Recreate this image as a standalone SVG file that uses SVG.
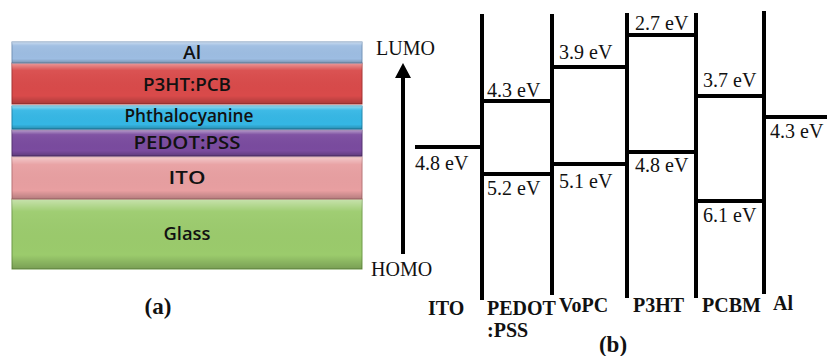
<svg xmlns="http://www.w3.org/2000/svg" width="827" height="356" viewBox="0 0 827 356">
<defs>
<linearGradient id="bevel" x1="0" y1="0" x2="0" y2="1">
<stop offset="0" stop-color="#fff" stop-opacity="0.45"/>
<stop offset="0.18" stop-color="#fff" stop-opacity="0.05"/>
<stop offset="0.8" stop-color="#000" stop-opacity="0"/>
<stop offset="1" stop-color="#000" stop-opacity="0.22"/>
</linearGradient>
<style>
.band{stroke-width:1}
.bl{font-family:"Open Sans","DejaVu Sans",sans-serif;font-weight:600;font-size:18px;fill:#111;text-anchor:middle}
.lv{stroke:#000;stroke-width:4;fill:none}
.ev{font-family:"Liberation Serif","Times New Roman",serif;font-size:20px;fill:#111}
.nm{font-family:"Liberation Serif","Times New Roman",serif;font-size:20px;font-weight:bold;fill:#111}
.cap{font-family:"Liberation Serif","Times New Roman",serif;font-size:23px;font-weight:bold;fill:#111;text-anchor:middle}
</style>
</defs>
<rect width="827" height="356" fill="#fff"/>
<g id="panel-a">
<g id="glass"><rect x="12" y="199" width="350" height="70" fill="#9bcb6c" stroke="#6f9a48" class="band"/><rect x="12" y="199" width="350" height="70" fill="url(#bevel)"/><text x="187" y="240" class="bl" textLength="47" lengthAdjust="spacingAndGlyphs">Glass</text></g>
<g id="ito"><rect x="12" y="157" width="350" height="42" fill="#e89fa1" stroke="#b77577" class="band"/><rect x="12" y="157" width="350" height="42" fill="url(#bevel)"/><text x="187" y="184" class="bl" textLength="37" lengthAdjust="spacingAndGlyphs">ITO</text></g>
<g id="pedot"><rect x="12" y="130" width="350" height="26" fill="#7a4b9f" stroke="#553271" class="band"/><rect x="12" y="130" width="350" height="26" fill="url(#bevel)"/><text x="187" y="149" class="bl" textLength="107" lengthAdjust="spacingAndGlyphs">PEDOT:PSS</text></g>
<g id="phthalocyanine"><rect x="12" y="106" width="350" height="23" fill="#35b7e5" stroke="#1f86ad" class="band"/><rect x="12" y="106" width="350" height="23" fill="url(#bevel)"/><text x="189" y="122" class="bl" textLength="129" lengthAdjust="spacingAndGlyphs">Phthalocyanine</text></g>
<g id="p3ht-pcb"><rect x="12" y="63" width="350" height="41" fill="#d94a4a" stroke="#a53232" class="band"/><rect x="12" y="63" width="350" height="41" fill="url(#bevel)"/><text x="187" y="91" class="bl" textLength="88" lengthAdjust="spacingAndGlyphs">P3HT:PCB</text></g>
<g id="al"><rect x="12" y="42" width="350" height="21" fill="#9dbde2" stroke="#7494b8" class="band"/><rect x="12" y="42" width="350" height="21" fill="url(#bevel)"/><text x="192" y="59" class="bl" textLength="18" lengthAdjust="spacingAndGlyphs">Al</text></g>
<text x="158" y="314" class="cap">(a)</text>
</g>
<g id="panel-b">
<g id="axis">
<line x1="403" y1="254" x2="403" y2="76" stroke="#000" stroke-width="4"/>
<polygon points="403,63 395,78 411,78" fill="#000"/>
<text x="376" y="55" class="ev" font-size="21">LUMO</text>
<text x="371" y="276" class="ev" font-size="21">HOMO</text>
</g>
<g id="walls">
<line class="lv" x1="482" y1="14" x2="482" y2="300"/>
<line class="lv" x1="552" y1="14" x2="552" y2="295"/>
<line class="lv" x1="627" y1="13" x2="627" y2="298"/>
<line class="lv" x1="696" y1="13" x2="696" y2="298"/>
<line class="lv" x1="764" y1="11" x2="764" y2="294"/>
</g>
<g id="ito-level"><line class="lv" x1="415" y1="147" x2="482" y2="147"/><text x="415" y="170" class="ev">4.8 eV</text><text x="428" y="315" class="nm">ITO</text></g>
<g id="pedot-level"><line class="lv" x1="482" y1="101" x2="552" y2="101"/><line class="lv" x1="482" y1="174" x2="552" y2="174"/><text x="487" y="97" class="ev">4.3 eV</text><text x="487" y="195" class="ev">5.2 eV</text><text x="487" y="315" class="nm">PEDOT</text><text x="487" y="337" class="nm">:PSS</text></g>
<g id="vopc-level"><line class="lv" x1="552" y1="67" x2="627" y2="67"/><line class="lv" x1="552" y1="164" x2="627" y2="164"/><text x="559" y="59" class="ev">3.9 eV</text><text x="559" y="188" class="ev">5.1 eV</text><text x="559" y="312" class="nm">VoPC</text></g>
<g id="p3ht-level"><line class="lv" x1="627" y1="35" x2="696" y2="35"/><line class="lv" x1="627" y1="152" x2="696" y2="152"/><text x="635" y="30" class="ev">2.7 eV</text><text x="635" y="172" class="ev">4.8 eV</text><text x="633" y="312" class="nm">P3HT</text></g>
<g id="pcbm-level"><line class="lv" x1="696" y1="96" x2="764" y2="96"/><line class="lv" x1="696" y1="201" x2="764" y2="201"/><text x="703" y="87" class="ev">3.7 eV</text><text x="703" y="222" class="ev">6.1 eV</text><text x="702" y="312" class="nm">PCBM</text></g>
<g id="al-level"><line class="lv" x1="764" y1="117" x2="827" y2="117"/><text x="770" y="138" class="ev">4.3 eV</text><text x="773" y="310" class="nm">Al</text></g>
<text x="613" y="352" class="cap">(b)</text>
</g>
</svg>
